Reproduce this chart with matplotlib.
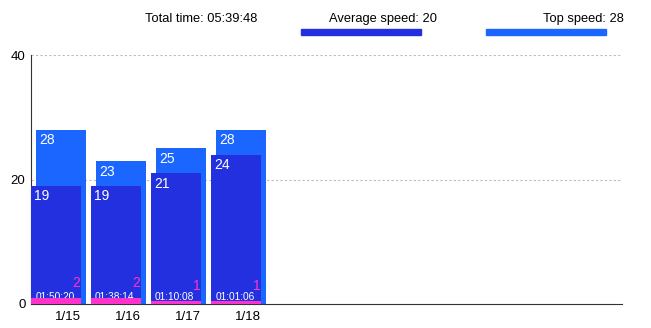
import matplotlib.pyplot as plt
from matplotlib.patches import Rectangle

days = ['1/15', '1/16', '1/17', '1/18']
top_speed = [28, 23, 25, 28]
avg_speed = [19, 19, 21, 24]
laps = [2, 2, 1, 1]
durations = ['01:50:20', '01:38:14', '01:10:08', '01:01:06']
total_time = '05:39:48'
avg_all = 20
top_all = 28

TOP_COLOR = '#1a66ff'
AVG_COLOR = '#2330e0'
LAP_COLOR = '#ff33cc'

plt.rcParams['font.family'] = ['Liberation Sans', 'DejaVu Sans']

fig = plt.figure(figsize=(6.51, 3.28), dpi=100)
W, H = 651, 328
ax = fig.add_axes([31 / W, 1 - 304 / H, 591 / W, 249 / H])
ax2 = ax.twinx()

bw = 50 / 60
for i in range(len(days)):
    ax.bar(i + 5 / 60, top_speed[i], width=bw, align='edge', color=TOP_COLOR, zorder=2)
    ax.bar(i, avg_speed[i], width=bw, align='edge', color=AVG_COLOR, zorder=3)
    ax.text(i + 8 / 60, top_speed[i] - 0.6, str(top_speed[i]), color='white',
            fontsize=10, va='top', ha='left', zorder=4)
    ax.text(i + 3 / 60, avg_speed[i] - 0.6, str(avg_speed[i]), color='white',
            fontsize=10, va='top', ha='left', zorder=4)
    ax.text(i + bw / 2 - 0.02, 1.2, durations[i], color='white', fontsize=7.3,
            ha='center', va='center', zorder=6)
    ax2.bar(i, laps[i], width=bw, align='edge', color=LAP_COLOR, zorder=5)
    ax2.text(i + bw - 0.01, laps[i] + 2.6, str(laps[i]), color=LAP_COLOR,
             fontsize=10, ha='right', va='bottom', zorder=6)

ax.set_xlim(0, 591 / 60)
ax.set_ylim(0, 40)
ax2.set_ylim(0, 80)
ax2.set_zorder(ax.get_zorder() + 1)
ax2.patch.set_visible(False)
ax2.set_yticks([])
for s in ['top', 'right']:
    ax.spines[s].set_visible(False)
    ax2.spines[s].set_visible(False)
ax2.spines['left'].set_visible(False)
ax2.spines['bottom'].set_visible(False)
ax.spines['left'].set_color('#333333')
ax.spines['bottom'].set_color('#333333')

ax.set_yticks([0, 20, 40])
ax.set_yticklabels(['0', '20', '40'], fontsize=9.5)
ax.tick_params(axis='y', length=0, pad=4)
ax.set_xticks([i + 0.62 for i in range(len(days))])
ax.set_xticklabels(days, fontsize=9.5)
ax.tick_params(axis='x', length=0, pad=5)
for y in [20, 40]:
    ax.axhline(y, color='#bbbbbb', linestyle=(0, (2, 2)), linewidth=0.8, zorder=1)

fig.text(145 / W, 1 - 19 / H, 'Total time: ' + total_time, fontsize=9.3, va='center', ha='left')
fig.text(437 / W, 1 - 19 / H, 'Average speed: %d' % avg_all, fontsize=9.3, va='center', ha='right')
fig.text(624 / W, 1 - 19 / H, 'Top speed: %d' % top_all, fontsize=9.3, va='center', ha='right')
fig.patches.append(Rectangle((301 / W, 1 - 35 / H), 120 / W, 6 / H,
                             transform=fig.transFigure, color=AVG_COLOR))
fig.patches.append(Rectangle((486 / W, 1 - 35 / H), 120 / W, 6 / H,
                             transform=fig.transFigure, color=TOP_COLOR))

fig.savefig('out.png', dpi=100)
